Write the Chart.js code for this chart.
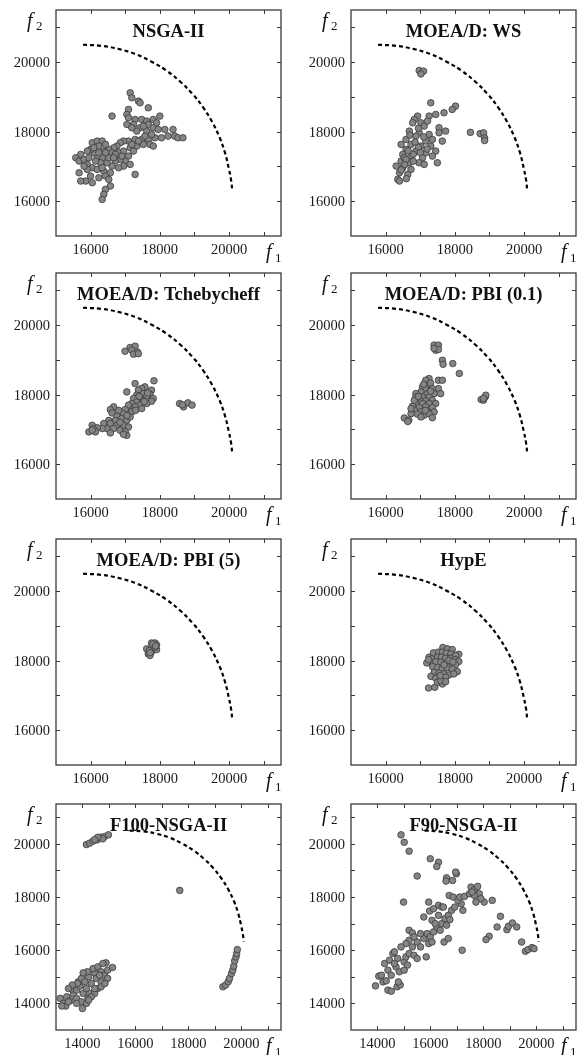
<!DOCTYPE html>
<html>
<head>
<meta charset="utf-8">
<script src="https://cdn.jsdelivr.net/npm/chart.js@4.4.1/dist/chart.umd.min.js"></script>
<style>
  html, body { margin: 0; padding: 0; background: #fff; width: 585px; height: 1055px; overflow: hidden; }
  canvas { position: absolute; }
</style>
</head>
<body>
<canvas id="c0" width="290" height="264" style="left:0;top:0"></canvas>
<canvas id="c1" width="290" height="264" style="left:295px;top:0"></canvas>
<canvas id="c2" width="290" height="264" style="left:0;top:263px"></canvas>
<canvas id="c3" width="290" height="264" style="left:295px;top:263px"></canvas>
<canvas id="c4" width="290" height="264" style="left:0;top:529px"></canvas>
<canvas id="c5" width="290" height="264" style="left:295px;top:529px"></canvas>
<canvas id="c6" width="290" height="264" style="left:0;top:794px"></canvas>
<canvas id="c7" width="290" height="264" style="left:295px;top:794px"></canvas>
<script>
// panel titles
const titles = ["NSGA-II", "MOEA/D: WS", "MOEA/D: Tchebycheff", "MOEA/D: PBI (0.1)",
  "MOEA/D: PBI (5)", "HypE", "F100-NSGA-II", "F90-NSGA-II"];

// labelled ticks (top six panels / bottom two)
const ticksTop = [16000, 18000, 20000];
const ticksBottom = [14000, 16000, 18000, 20000];

// dashed reference front (f1, f2)
const frontF1 = [15780, 16300, 16800, 17300, 17750, 18200, 18600, 18950, 19250, 19500, 19720, 19880, 19990, 20060, 20090];
const frontF2 = [20500, 20470, 20380, 20230, 20020, 19750, 19430, 19080, 18700, 18300, 17850, 17400, 16950, 16600, 16320];

// solutions found by each algorithm, [f1, f2]
const nsga2Pts = [
  [17143,19119],[17190,18975],[17381,18879],[17429,18831],[17667,18688],[17095,18640],[17048,18496],
  [16619,18448],[17095,18400],[17286,18352],[17476,18352],[17619,18304],[17810,18352],[18000,18448],
  [17905,18256],[17667,18208],[17238,18208],[17048,18208],[17429,18113],[17333,18017],[17619,18017],
  [17810,18113],[17952,18064],[18143,18064],[18381,18064],[18238,17873],[18429,17873],[18524,17825],
  [18667,17825],[18048,17825],[17857,17825],[17667,17777],[17476,17777],[17286,17777],[17095,17730],
  [16952,17730],[16857,17682],[16762,17586],[16667,17538],[16524,17490],[16381,17442],[16619,17394],
  [16810,17394],[16952,17442],[17143,17538],[17333,17586],[17524,17634],[17714,17634],[17810,17586],
  [17238,17442],[17095,17298],[17000,17155],[16857,17202],[16714,17155],[16952,17011],[17143,17059],
  [16810,16963],[16619,17011],[16476,17107],[16524,17251],[16333,17251],[16286,17107],[16190,17298],
  [16095,17394],[16000,17490],[16048,17682],[16190,17730],[16333,17730],[16429,17634],[16238,17586],
  [16095,17538],[15905,17442],[15714,17346],[15571,17251],[15667,17155],[15810,17202],[15952,17251],
  [15905,17059],[16048,16963],[16190,16915],[16381,16867],[16571,16819],[16429,16724],[16238,16676],
  [16000,16724],[15857,16580],[15714,16580],[15667,16819],[15905,16915],[16524,16628],[16571,16436],
  [16429,16340],[16381,16197],[16333,16053],[17286,16771],[16048,16532],[16714,17346],[16905,17298],
  [16429,17394],[16238,17394],[16143,17155],[16333,16963],[17190,17634],[17381,17730],[17571,17873],
  [17762,17920],[17524,18160],[17190,18113],[16667,17251],[15810,17011]
];
const wsPts = [
  [16970,19760],[17095,19740],[17020,19660],[17305,18831],[18019,18735],[17924,18640],[17686,18544],
  [17448,18496],[17257,18448],[16924,18448],[16829,18352],[16781,18256],[17019,18256],[17114,18161],
  [17543,18113],[17733,18017],[17543,17969],[16686,18017],[16971,17969],[17257,17921],[16876,17873],
  [17352,17777],[17638,17730],[16590,17777],[17162,17730],[16448,17634],[16733,17634],[17019,17586],
  [17305,17586],[16590,17490],[16876,17442],[17162,17394],[17448,17442],[16495,17346],[16733,17298],
  [17067,17250],[17352,17298],[16448,17155],[16686,17107],[16971,17107],[17114,17059],[16495,16963],
  [16733,16915],[16400,16819],[16638,16771],[16352,16628],[16400,16580],[16543,17250],[17210,18304],
  [16305,17011],[17495,17107],[18450,17980],[18730,17945],[18830,17965],[18860,17820],[18860,17745],
  [16590,17200],[16800,17350],[16950,17550],[17200,17500],[16850,17700],[16650,17450],[16550,17050],
  [16800,17150],[17000,17400],[16450,16900],[16600,16650],[17100,17850],[16950,18100],[16700,17900]
];
const tchePts = [
  [17140,19357],[17285,19395],[17190,19280],[16995,19250],[17350,19230],[17240,19165],[17380,19180],
  [17285,18320],[17830,18400],[17045,18080],[18570,17745],[18685,17650],[18810,17765],[18930,17700],
  [18650,17710],[17570,18225],[17475,18180],[17760,18130],[17380,18130],[17525,18030],[17715,18010],
  [17330,17985],[17620,17955],[17810,17890],[17430,17890],[17240,17890],[17520,17840],[17760,17810],
  [17330,17790],[17190,17745],[17620,17745],[17430,17700],[17285,17650],[17140,17600],[17475,17600],
  [17095,17700],[17000,17570],[17190,17505],[16950,17455],[16810,17550],[16665,17650],[16570,17570],
  [16620,17475],[16760,17380],[16900,17310],[17045,17260],[17140,17360],[16715,17260],[16525,17260],
  [16380,17170],[16570,17170],[16760,17120],[16950,17120],[17095,17070],[16475,17025],[16665,17025],
  [16855,16975],[17000,16930],[17045,16830],[16950,16860],[16570,16900],[16335,17025],[16190,17050],
  [16045,17120],[16075,17025],[15950,16930],[16140,16930],[16045,16980],[17400,17950],[17650,18050],
  [17550,17800],[17300,17550],[16850,17200],[17050,17400]
];
const pbi01Pts = [
  [17400,19425],[17525,19425],[17450,19280],[17525,19300],[17400,19330],[17640,18990],[17660,18875],
  [17940,18895],[18130,18610],[17525,18415],[17640,18415],[17525,18175],[17590,18030],[18760,17860],
  [18825,17840],[18875,17935],[18895,17985],[18825,17890],[17255,18465],[17160,18415],[17210,18270],
  [17300,18335],[17065,18225],[17160,18150],[17350,18175],[17020,18080],[17210,18030],[17400,18030],
  [16875,18030],[17065,17935],[17255,17935],[16970,17860],[17160,17820],[17350,17840],[16875,17765],
  [17065,17745],[17255,17745],[17445,17745],[16780,17670],[16970,17630],[17160,17650],[17350,17630],
  [16830,17555],[17020,17505],[17210,17525],[17400,17505],[16920,17440],[17115,17410],[17255,17455],
  [17020,17360],[17350,17340],[16735,17455],[16540,17330],[16670,17270],[16640,17230],[16735,17600],
  [16875,17935],[16830,17840],[17100,18300],[16950,17950],[17300,18100],[17150,17550]
];
const pbi5Pts = [
  [17620,18340],[17665,18195],[17715,18150],[17760,18260],[17810,18435],[17860,18510],[17760,18510],
  [17905,18455],[17830,18340],[17905,18320],[17760,18360],[17690,18290],[17860,18390],[17800,18480],
  [17880,18420],[17720,18230]
];
const hypePts = [
  [17240,17215],[17420,17235],[17655,18380],[17780,18340],[17925,18320],[18115,18185],[17255,18100],
  [17380,18225],[17525,18245],[17640,18245],[17755,18215],[17885,18195],[18020,18150],[17335,18050],
  [17500,18100],[17620,18100],[17735,18070],[17875,18070],[18000,18030],[18115,17975],[17310,17955],
  [17450,17975],[17595,17955],[17735,17925],[17875,17895],[18020,17880],[17355,17830],[17500,17800],
  [17640,17780],[17780,17800],[17925,17760],[18070,17685],[17405,17665],[17545,17645],[17690,17620],
  [17830,17590],[17970,17620],[17310,17550],[17450,17495],[17595,17475],[17735,17525],[17500,17380],
  [17640,17330],[17595,17425],[17190,17935],[17240,18030],[17830,18010],[17945,17965],[17690,17880],
  [17575,17570],[17735,17395]
];
const f100Pts = [
  [14150,19975],[14270,20025],[14395,20100],[14555,20150],[14680,20250],[14830,20275],[14980,20340],
  [14765,20190],[14580,20250],[14460,20160],[17675,18250],[19305,14625],[19405,14690],[19505,14815],
  [19555,14940],[19630,15125],[19680,15250],[19715,15400],[19750,15600],[19800,15750],[19825,15875],
  [19850,16025],[13160,14190],[13285,14000],[13370,13900],[13220,13900],[13405,14250],[13530,14100],
  [13655,14350],[13590,14540],[13780,14500],[13900,14650],[13840,14810],[13965,14940],[14025,14375],
  [13780,14190],[13965,14060],[14000,13810],[14150,14000],[14210,14190],[14270,14375],[14150,14560],
  [14335,14750],[14235,15000],[14460,15150],[14400,15310],[14580,15375],[14705,15190],[14520,14940],
  [14705,14810],[14830,15060],[14950,15250],[14890,15525],[14770,15500],[15135,15350],[14580,14560],
  [14460,14375],[14705,14625],[14950,14940],[14090,14810],[14185,15190],[14025,15150],[13810,14750],
  [13615,14690],[13470,14560],[14335,14250],[14460,14560],[14645,15060],[14850,14750],[14235,14125],
  [13780,14000],[13470,14060]
];
const f90Pts = [
  [14890,20340],[15010,20060],[15195,19725],[15995,19440],[16305,19310],[16240,19150],[15500,18790],
  [16980,18875],[16955,18940],[16610,18725],[16590,18600],[16835,18625],[14985,17810],[15935,17810],
  [15970,17475],[15750,17250],[16305,17690],[16430,17625],[16060,17125],[15195,16750],[15320,16650],
  [16710,18060],[16860,18000],[17165,17750],[17225,17500],[17200,16000],[18335,17875],[18645,17275],
  [18220,16525],[18100,16400],[18520,16875],[18890,16775],[18950,16900],[19100,17025],[19260,16875],
  [19445,16310],[19590,15960],[19690,16025],[19840,16100],[19915,16060],[13925,14660],[14050,15025],
  [14210,14810],[14330,14850],[14395,14500],[14520,14460],[14395,15250],[14520,15060],[14580,15875],
  [14700,15375],[14765,15690],[14825,15190],[14740,14625],[14860,14690],[14790,14810],[15010,15560],
  [15075,15750],[15135,15440],[15010,15250],[15195,15875],[15320,16125],[15380,15810],[15500,16310],
  [15625,16125],[15750,16440],[15875,16625],[15935,16250],[15840,15750],[15995,16500],[16060,16310],
  [16120,16690],[16240,16875],[16370,16750],[16430,17000],[16550,17190],[16610,16940],[16675,17310],
  [16800,17500],[16735,17150],[16920,17625],[17040,17875],[17105,18000],[17290,18025],[17475,18125],
  [17535,18375],[17660,18275],[17785,18400],[17845,18125],[17660,18060],[17570,18190],[18030,17810],
  [17905,17940],[17720,17810],[16515,16310],[16675,16440],[16305,17310],[16120,17560],[16490,17625],
  [16180,17000],[15625,16625],[15500,15690],[14150,15060],[14270,15500],[14455,15625],[14640,15500],
  [15195,16375],[15380,16500],[15075,16250],[14890,16125],[14640,15940]
];

const panelPts = [nsga2Pts, wsPts, tchePts, pbi01Pts, pbi5Pts, hypePts, f100Pts, f90Pts];
const serif = '"Liberation Serif", "Times New Roman", serif';

// frame, inward ticks, tick labels, title and axis names
const framePlugin = {
  id: "frame",
  afterDatasetsDraw(chart, args, opts) {
    const { ctx, chartArea: a, scales: { x, y } } = chart;
    ctx.save();
    ctx.strokeStyle = "#3a3a3a";
    ctx.lineWidth = 1;
    ctx.beginPath();
    for (let v = Math.ceil(x.min / 1000) * 1000; v < x.max; v += 1000) {
      if (v <= x.min) continue;
      const px = Math.round(x.getPixelForValue(v)) + 0.5;
      ctx.moveTo(px, a.bottom); ctx.lineTo(px, a.bottom - 4);
      ctx.moveTo(px, a.top); ctx.lineTo(px, a.top + 4);
    }
    for (let v = Math.ceil(y.min / 1000) * 1000; v < y.max; v += 1000) {
      if (v <= y.min) continue;
      const py = Math.round(y.getPixelForValue(v)) + 0.5;
      ctx.moveTo(a.left, py); ctx.lineTo(a.left + 4, py);
      ctx.moveTo(a.right, py); ctx.lineTo(a.right - 4, py);
    }
    ctx.stroke();
    ctx.lineWidth = 1.3;
    ctx.strokeRect(a.left, a.top, a.right - a.left, a.bottom - a.top);

    ctx.fillStyle = "#1a1a1a";
    ctx.textBaseline = "alphabetic";
    ctx.font = "14.5px " + serif;
    ctx.textAlign = "center";
    opts.labels.forEach((v) => ctx.fillText(String(v), x.getPixelForValue(v), a.bottom + 18));
    ctx.textAlign = "right";
    opts.labels.forEach((v) => ctx.fillText(String(v), a.left - 6, y.getPixelForValue(v) + 5));

    ctx.fillStyle = "#111";
    ctx.textAlign = "center";
    ctx.font = "bold 18.5px " + serif;
    ctx.fillText(opts.title, (a.left + a.right) / 2, a.top + 27);

    ctx.textAlign = "left";
    ctx.font = "italic 20px " + serif;
    ctx.fillText("f", a.left - 29, a.top + 17);
    ctx.fillText("f", a.right - 15, a.bottom + 22);
    ctx.font = "13px " + serif;
    ctx.fillText("2", a.left - 20, a.top + 20);
    ctx.fillText("1", a.right - 6, a.bottom + 26);
    ctx.restore();
  }
};

panelPts.forEach((pts, i) => {
  const lo = i >= 6 ? 13000 : 15000;
  const hi = 21500;
  const axis = (pos) => ({
    type: "linear",
    position: pos,
    min: lo,
    max: hi,
    grid: { display: false, drawTicks: false },
    border: { display: false },
    ticks: { display: false },
    afterFit: (s) => {
      if (pos === "left") s.width = 56;
      else s.height = 28;
    }
  });

  new Chart(document.getElementById("c" + i), {
    type: "scatter",
    data: {
      datasets: [
        {
          data: pts.map((p) => ({ x: p[0], y: p[1] })),
          pointRadius: 3.3,
          pointBackgroundColor: "#858585",
          pointBorderColor: "#3a3a3a",
          pointBorderWidth: 0.8
        },
        {
          data: frontF1.map((v, k) => ({ x: v, y: frontF2[k] })),
          showLine: true,
          pointRadius: 0,
          borderColor: "#000",
          borderWidth: 2.2,
          borderDash: [4, 3],
          tension: 0.4
        }
      ]
    },
    options: {
      responsive: false,
      animation: false,
      events: [],
      layout: { padding: { top: 10, right: 9, left: 0, bottom: 0 } },
      plugins: {
        legend: { display: false },
        tooltip: { enabled: false },
        frame: { title: titles[i], labels: i >= 6 ? ticksBottom : ticksTop }
      },
      scales: { x: axis("bottom"), y: axis("left") }
    },
    plugins: [framePlugin]
  });
});
</script>
</body>
</html>
